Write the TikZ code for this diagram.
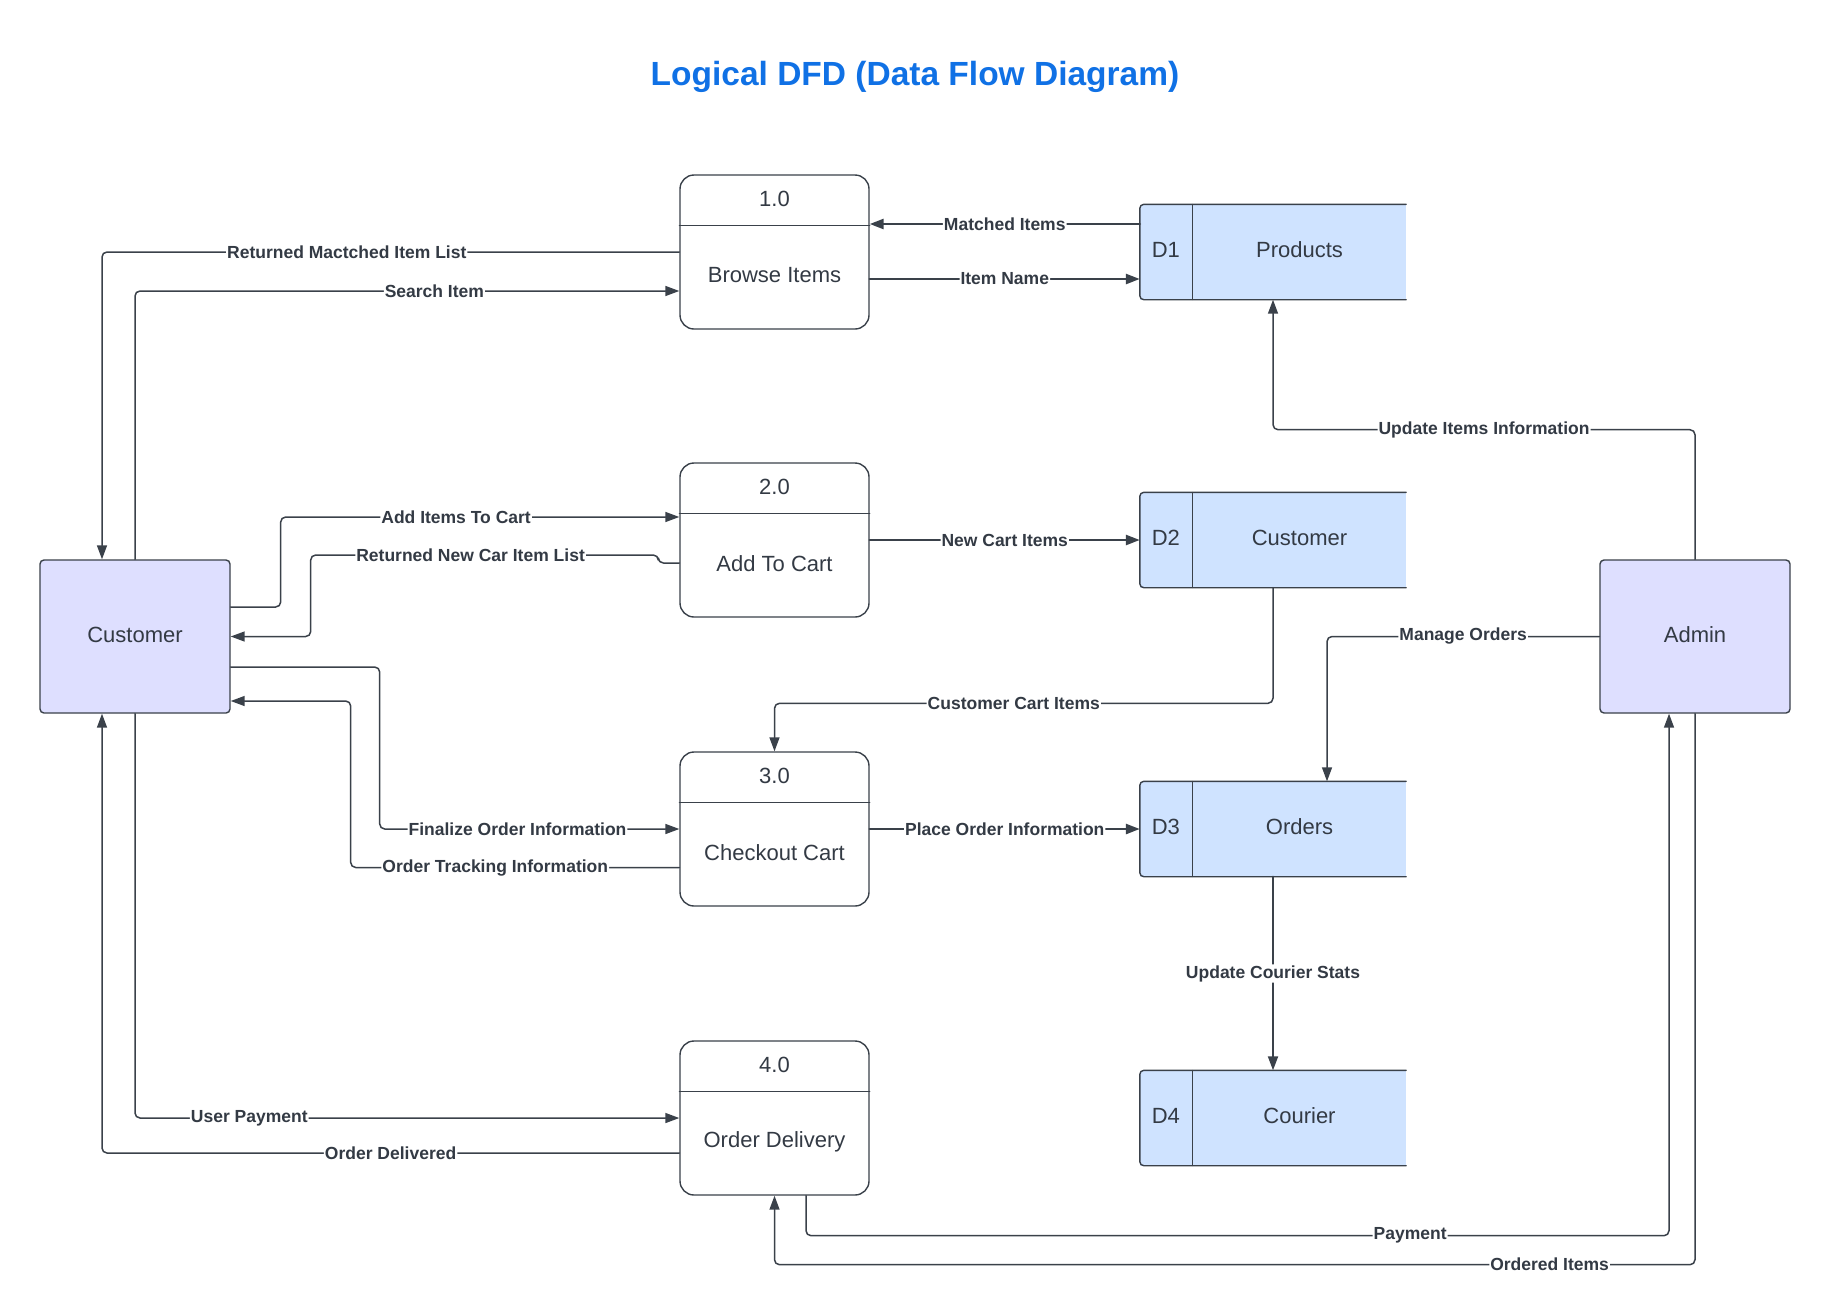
\documentclass[tikz,border=0pt]{standalone}
\usepackage{fontspec}
\setmainfont{Liberation Sans}
\usetikzlibrary{arrows.meta}
\definecolor{linec}{HTML}{3A414A}
\definecolor{textc}{HTML}{333A44}
\definecolor{storefill}{HTML}{CFE3FF}
\definecolor{extfill}{HTML}{DEDFFF}
\definecolor{titlec}{HTML}{1071E5}
\begin{document}
\begin{tikzpicture}[>={Triangle[length=14pt,width=10pt]},line cap=round,line join=round,x=1pt,y=-1pt,
		boxtxt/.style={text=textc,font=\fontsize{22pt}{26pt}\selectfont},
		proc/.style={draw=linec,line width=1.4pt,fill=white,rounded corners=14pt,minimum width=189pt,minimum height=154pt,inner sep=0pt},
		store/.style={fill=storefill,minimum width=266pt,minimum height=95pt,inner sep=0pt},
		ext/.style={draw=linec,line width=1.4pt,fill=extfill,rounded corners=4pt,minimum width=190pt,minimum height=153pt,inner sep=0pt},
		flow/.style={draw=linec,line width=1.5pt,rounded corners=5pt,->},
		boldflow/.style={flow,line width=2.6pt},
		lbl/.style={fill=white,inner sep=1pt,text=textc,font=\bfseries\fontsize{17.5pt}{20pt}\selectfont}]
	\useasboundingbox (0,0) rectangle (1830,1315);
	\node[text=titlec,font=\bfseries\fontsize{33.5pt}{40pt}\selectfont] (title) at (915,77) {Logical DFD (Data Flow Diagram)};
	% processes
	\foreach \n/\y/\num/\txt in {p1/252/1.0/Browse Items,p2/540/2.0/Add To Cart,p3/829/3.0/Checkout Cart,p4/1118/4.0/Order Delivery}{
		\node[proc] (\n) at (774.5,\y) {};
		\draw[draw=linec,line width=1.2pt] ([yshift=-51pt]\n.north west) -- ([yshift=-51pt]\n.north east);
		\node[boxtxt] at ([yshift=-25pt]\n.north) {\num};
		\node[boxtxt] at ([yshift=-23.5pt]\n.center) {\txt};
	}
	% data stores
	\foreach \n/\y/\id/\txt in {d1/252/D1/Products,d2/540/D2/Customer,d3/829/D3/Orders,d4/1118/D4/Courier}{
		\node[store] (\n) at (1273,\y) {};
		\draw[draw=linec,line width=1.4pt,rounded corners=4pt] (\n.north east) -- (\n.north west) -- (\n.south west) -- (\n.south east);
		\draw[draw=linec,line width=0.9pt] ([xshift=53pt]\n.north west) -- ([xshift=53pt]\n.south west);
		\node[boxtxt] at ([xshift=26pt,yshift=2pt]\n.west) {\id};
		\node[boxtxt] at ([xshift=26.5pt,yshift=2pt]\n.center) {\txt};
	}
	\node[ext] (cust) at (135,636.5) {};
	\node[ext] (adm) at (1695,636.5) {};
	\node[boxtxt] at ([yshift=2pt]cust.center) {Customer};
	\node[boxtxt] at ([yshift=2pt]adm.center) {Admin};
	% flows
	\draw[flow] (p1.west) -| node[lbl,pos=.288]{Returned Mactched Item List} ([xshift=-33pt]cust.north);
	\draw[flow] (cust.north) |- node[lbl,pos=.775]{Search Item} ([yshift=-39pt]p1.west);
	\draw[boldflow] ([yshift=28pt]d1.west) -- node[lbl]{Matched Items} ([yshift=28pt]p1.east);
	\draw[boldflow] ([yshift=-27pt]p1.east) -- node[lbl]{Item Name} ([yshift=-27pt]d1.west);
	\draw[flow] (adm.north) |- node[lbl,pos=.75]{Update Items Information} ([yshift=-130pt]d1.south) -- (d1.south);
	\draw[flow] ([yshift=29.5pt]cust.east) -- ++(50,0) |- node[lbl,pos=.72]{Add Items To Cart} ([yshift=23pt]p2.west);
	\draw[flow] ([yshift=-23pt]p2.west) -- ++(-21,0) -- ++(0,-8) -| node[lbl,pos=.27]{Returned New Car Item List} ([xshift=80pt]cust.east) -- (cust.east);
	\draw[boldflow] (p2.east) -- node[lbl]{New Cart Items} (d2.west);
	\draw[flow] (d2.south) |- node[lbl,pos=.76]{Customer Cart Items} ([yshift=48pt]p3.north) -- (p3.north);
	\draw[flow] (adm.west) -| node[lbl,pos=.25]{Manage Orders} ([xshift=54pt]d3.north);
	\draw[flow] ([yshift=-30.5pt]cust.east) -- ++(149,0) |- node[lbl,pos=.73]{Finalize Order Information} (p3.west);
	\draw[flow] ([yshift=-38.5pt]p3.west) -| node[lbl,pos=.28]{Order Tracking Information} ([xshift=120pt,yshift=-64.5pt]cust.east) -- ([yshift=-64.5pt]cust.east);
	\draw[boldflow] (p3.east) -- node[lbl]{Place Order Information} (d3.west);
	\draw[flow,line width=2pt] (d3.south) -- node[lbl]{Update Courier Stats} (d4.north);
	\draw[flow] (cust.south) |- node[lbl,pos=.605]{User Payment} (p4.west);
	\draw[flow] ([yshift=-35pt]p4.west) -| node[lbl,pos=.25]{Order Delivered} ([xshift=-33pt]cust.south);
	\draw[flow] ([xshift=31.5pt]p4.south) -- ++(0,40) -| node[lbl,pos=.35]{Payment} ([xshift=-26pt]adm.south);
	\draw[flow] (adm.south) -- ++(0,551) -| node[lbl,pos=.079]{Ordered Items} (p4.south);
\end{tikzpicture}
\end{document}
